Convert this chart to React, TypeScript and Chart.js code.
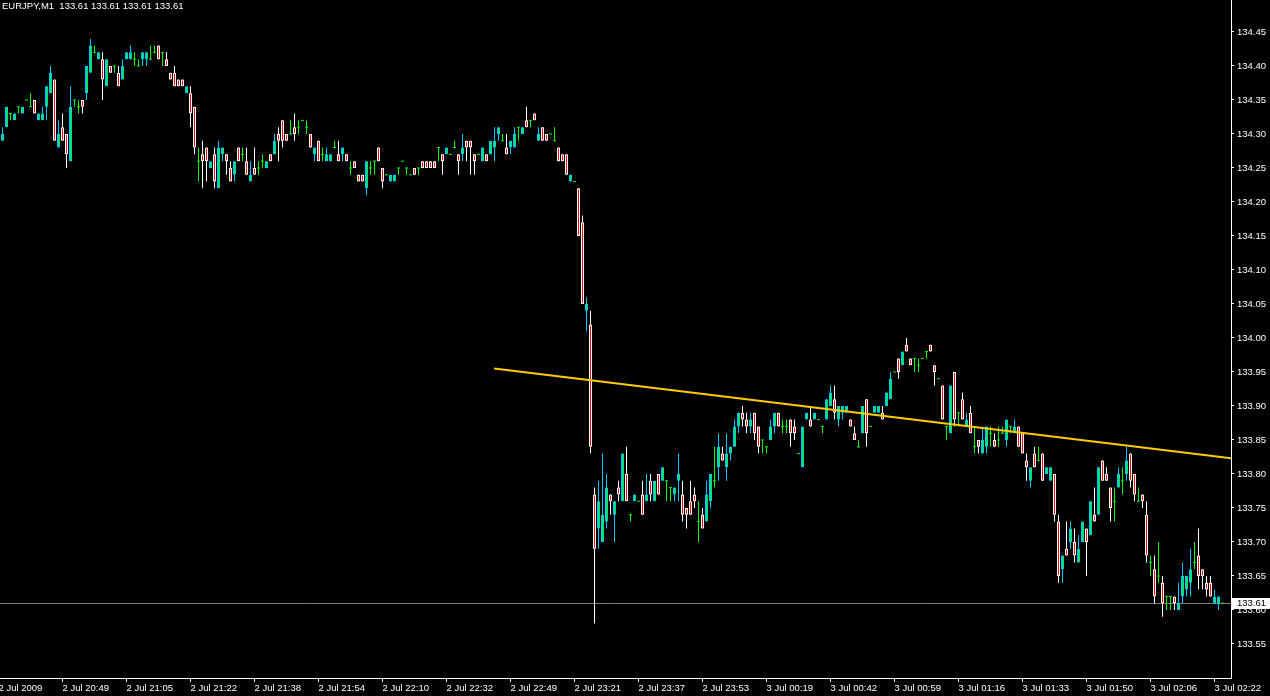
import { useEffect, useRef } from "react";
import { Chart, registerables } from "chart.js";

Chart.register(...registerables);

// ---------- data (EURJPY, M1) ----------
const symbolName = "EURJPY,M1";

const opens = [
  134.29,134.31,134.33,134.32,134.34,134.33,134.35,134.34,134.35,134.32,
  134.32,134.34,134.36,134.38,134.28,134.31,134.30,134.26,134.35,134.34,
  134.35,134.36,134.39,134.42,134.41,134.41,134.37,134.40,134.40,134.39,
  134.38,134.41,134.41,134.41,134.40,134.41,134.41,134.41,134.42,134.43,
  134.42,134.41,134.39,134.39,134.38,134.38,134.36,134.36,134.34,134.26,
  134.27,134.28,134.25,134.27,134.22,134.27,134.27,134.25,134.24,134.28,
  134.27,134.26,134.23,134.25,134.25,134.26,134.25,134.27,134.27,134.30,
  134.32,134.30,134.30,134.31,134.31,134.32,134.31,134.30,134.27,134.29,
  134.27,134.26,134.26,134.28,134.27,134.27,134.27,134.25,134.26,134.24,
  134.24,134.22,134.25,134.26,134.28,134.25,134.24,134.23,134.23,134.25,
  134.26,134.25,134.24,134.25,134.25,134.26,134.26,134.26,134.26,134.28,
  134.27,134.27,134.27,134.28,134.27,134.27,134.29,134.29,134.27,134.27,
  134.26,134.27,134.27,134.28,134.30,134.29,134.28,134.28,134.28,134.31,
  134.30,134.32,134.32,134.33,134.29,134.31,134.30,134.30,134.29,134.28,
  134.27,134.27,134.23,134.23,134.22,134.17,134.04,134.02,133.77,133.72,
  133.70,133.73,133.77,133.74,133.78,133.76,133.80,133.74,133.76,133.76,
  133.77,133.76,133.79,133.76,133.80,133.79,133.79,133.78,133.77,133.79,
  133.77,133.75,133.76,133.77,133.73,133.74,133.73,133.76,133.79,133.81,
  133.83,133.81,133.83,133.84,133.87,133.89,133.88,133.87,133.89,133.87,
  133.85,133.84,133.85,133.87,133.89,133.87,133.87,133.88,133.87,133.83,
  133.81,133.88,133.88,133.88,133.88,133.87,133.88,133.90,133.91,133.88,
  133.89,133.89,133.88,133.86,133.84,133.86,133.91,133.87,133.89,133.89,
  133.89,133.90,133.91,133.95,133.97,133.96,133.99,133.97,133.97,133.96,
  133.97,133.98,133.99,133.96,133.94,133.93,133.87,133.86,133.95,133.89,
  133.91,133.87,133.89,133.84,133.85,133.83,133.84,133.86,133.85,133.85,
  133.86,133.85,133.87,133.86,133.87,133.86,133.82,133.79,133.83,133.82,
  133.83,133.80,133.79,133.80,133.73,133.66,133.69,133.70,133.70,133.67,
  133.70,133.72,133.71,133.74,133.74,133.82,133.80,133.78,133.76,133.78,
  133.79,133.80,133.83,133.80,133.76,133.77,133.74,133.67,133.66,133.65,
  133.64,133.62,133.62,133.62,133.60,133.62,133.63,133.64,133.67,133.68,
  133.66,133.64,133.64,133.61,133.61,133.61,
];

const highs = [
  134.31,134.34,134.33,134.33,134.34,134.34,134.35,134.36,134.35,134.33,
  134.34,134.37,134.40,134.38,134.32,134.33,134.30,134.37,134.35,134.35,
  134.35,134.40,134.44,134.43,134.42,134.42,134.41,134.40,134.40,134.40,
  134.41,134.42,134.43,134.42,134.41,134.42,134.42,134.43,134.43,134.43,
  134.42,134.42,134.39,134.40,134.38,134.38,134.37,134.37,134.34,134.28,
  134.29,134.28,134.26,134.28,134.29,134.28,134.27,134.26,134.26,134.28,
  134.28,134.28,134.26,134.28,134.26,134.27,134.26,134.27,134.30,134.31,
  134.32,134.30,134.32,134.33,134.32,134.32,134.32,134.30,134.28,134.29,
  134.28,134.28,134.27,134.29,134.29,134.28,134.27,134.26,134.26,134.24,
  134.24,134.26,134.26,134.26,134.28,134.25,134.24,134.24,134.24,134.25,
  134.26,134.25,134.24,134.25,134.25,134.26,134.26,134.26,134.26,134.28,
  134.27,134.28,134.27,134.29,134.27,134.30,134.29,134.29,134.27,134.27,
  134.28,134.27,134.29,134.31,134.31,134.30,134.30,134.29,134.31,134.31,
  134.31,134.34,134.32,134.33,134.31,134.31,134.30,134.30,134.31,134.28,
  134.27,134.27,134.24,134.23,134.22,134.18,134.06,134.04,133.78,133.79,
  133.83,133.80,133.77,133.76,133.79,133.83,133.84,133.74,133.77,133.76,
  133.79,133.80,133.80,133.79,133.80,133.81,133.79,133.78,133.78,133.83,
  133.79,133.75,133.79,133.78,133.76,133.75,133.79,133.80,133.84,133.86,
  133.84,133.86,133.84,133.88,133.89,133.90,133.89,133.89,133.89,133.87,
  133.85,133.84,133.88,133.89,133.89,133.88,133.88,133.88,133.88,133.83,
  133.87,133.89,133.90,133.89,133.88,133.87,133.91,133.93,133.93,133.90,
  133.90,133.90,133.88,133.87,133.85,133.90,133.91,133.87,133.90,133.90,
  133.90,133.92,133.95,133.95,133.97,133.98,134.00,133.97,133.97,133.97,
  133.97,133.98,133.99,133.96,133.94,133.93,133.87,133.93,133.95,133.89,
  133.92,133.89,133.90,133.87,133.85,133.87,133.87,133.87,133.86,133.87,
  133.87,133.88,133.87,133.88,133.87,133.86,133.83,133.81,133.84,133.84,
  133.83,133.81,133.81,133.80,133.74,133.68,133.73,133.73,133.72,133.71,
  133.73,133.72,133.76,133.78,133.81,133.82,133.81,133.78,133.78,133.81,
  133.81,133.84,133.83,133.80,133.78,133.77,133.76,133.68,133.68,133.70,
  133.65,133.62,133.62,133.62,133.64,133.67,133.65,133.69,133.70,133.72,
  133.66,133.65,133.65,133.63,133.62,133.61,
];

const lows = [
  134.29,134.31,134.32,134.32,134.33,134.33,134.35,134.34,134.33,134.32,
  134.32,134.32,134.36,134.29,134.28,134.29,134.25,134.26,134.34,134.33,
  134.33,134.35,134.39,134.42,134.41,134.35,134.37,134.39,134.39,134.37,
  134.38,134.41,134.41,134.40,134.40,134.40,134.40,134.41,134.42,134.41,
  134.40,134.40,134.38,134.37,134.37,134.37,134.36,134.31,134.27,134.23,
  134.22,134.23,134.25,134.22,134.22,134.26,134.24,134.23,134.23,134.26,
  134.26,134.24,134.23,134.24,134.24,134.25,134.25,134.26,134.27,134.26,
  134.28,134.29,134.30,134.29,134.30,134.32,134.30,134.28,134.26,134.26,
  134.26,134.26,134.26,134.28,134.26,134.26,134.26,134.24,134.25,134.23,
  134.23,134.21,134.24,134.24,134.26,134.22,134.24,134.23,134.23,134.24,
  134.26,134.24,134.24,134.24,134.24,134.25,134.25,134.25,134.25,134.26,
  134.24,134.27,134.27,134.28,134.24,134.26,134.26,134.24,134.24,134.27,
  134.26,134.26,134.27,134.26,134.29,134.29,134.27,134.27,134.28,134.29,
  134.30,134.31,134.31,134.32,134.29,134.29,134.29,134.30,134.29,134.26,
  134.26,134.24,134.23,134.23,134.15,134.05,134.01,133.83,133.58,133.69,
  133.70,133.72,133.74,133.70,133.76,133.76,133.76,133.73,133.76,133.76,
  133.74,133.76,133.76,133.76,133.77,133.79,133.76,133.76,133.76,133.76,
  133.73,133.72,133.74,133.75,133.70,133.72,133.73,133.75,133.78,133.79,
  133.82,133.79,133.82,133.84,133.86,133.87,133.86,133.86,133.85,133.83,
  133.83,133.83,133.85,133.86,133.87,133.86,133.86,133.84,133.85,133.83,
  133.81,133.88,133.87,133.88,133.88,133.86,133.88,133.90,133.88,133.87,
  133.88,133.89,133.87,133.85,133.84,133.86,133.84,133.87,133.89,133.89,
  133.88,133.90,133.91,133.95,133.94,133.96,133.98,133.96,133.95,133.95,
  133.97,133.97,133.98,133.93,133.94,133.88,133.85,133.86,133.87,133.87,
  133.88,133.87,133.86,133.83,133.83,133.83,133.83,133.84,133.84,133.84,
  133.86,133.84,133.86,133.86,133.84,133.83,133.79,133.78,133.81,133.82,
  133.79,133.80,133.79,133.73,133.64,133.64,133.68,133.69,133.67,133.67,
  133.70,133.65,133.71,133.73,133.74,133.79,133.79,133.73,133.73,133.78,
  133.77,133.79,133.78,133.76,133.76,133.75,133.67,133.65,133.61,133.64,
  133.59,133.60,133.60,133.60,133.60,133.61,133.62,133.62,133.66,133.63,
  133.63,133.62,133.62,133.61,133.60,133.61,
];

const closes = [
  134.30,134.34,134.33,134.33,134.34,134.34,134.35,134.34,134.33,134.33,
  134.33,134.37,134.39,134.29,134.30,134.29,134.27,134.34,134.35,134.34,
  134.34,134.40,134.43,134.42,134.42,134.38,134.41,134.39,134.40,134.37,
  134.40,134.42,134.42,134.41,134.40,134.42,134.42,134.41,134.42,134.41,
  134.42,134.40,134.38,134.37,134.37,134.37,134.37,134.33,134.28,134.26,
  134.26,134.26,134.26,134.23,134.28,134.28,134.26,134.23,134.26,134.26,
  134.27,134.24,134.24,134.24,134.25,134.26,134.26,134.26,134.29,134.29,
  134.29,134.29,134.30,134.30,134.31,134.32,134.31,134.28,134.28,134.26,
  134.27,134.27,134.27,134.28,134.26,134.28,134.26,134.25,134.25,134.23,
  134.23,134.26,134.25,134.26,134.26,134.23,134.24,134.24,134.24,134.25,
  134.26,134.25,134.24,134.24,134.25,134.25,134.25,134.25,134.25,134.28,
  134.26,134.28,134.27,134.28,134.26,134.28,134.28,134.28,134.26,134.27,
  134.28,134.26,134.29,134.29,134.31,134.29,134.27,134.29,134.30,134.31,
  134.31,134.31,134.32,134.32,134.30,134.29,134.29,134.30,134.29,134.26,
  134.26,134.24,134.24,134.23,134.15,134.05,134.05,133.84,133.69,133.76,
  133.74,133.78,133.76,133.76,133.77,133.83,133.76,133.74,133.77,133.76,
  133.74,133.77,133.77,133.79,133.77,133.81,133.79,133.78,133.78,133.80,
  133.74,133.74,133.74,133.76,133.73,133.72,133.77,133.80,133.79,133.84,
  133.82,133.83,133.84,133.87,133.89,133.88,133.87,133.88,133.86,133.84,
  133.85,133.84,133.87,133.89,133.87,133.87,133.87,133.86,133.86,133.83,
  133.87,133.89,133.87,133.89,133.88,133.87,133.91,133.92,133.89,133.90,
  133.90,133.90,133.87,133.85,133.84,133.90,133.86,133.87,133.90,133.90,
  133.88,133.92,133.94,133.95,133.95,133.98,133.98,133.96,133.97,133.96,
  133.97,133.98,133.98,133.95,133.94,133.88,133.87,133.93,133.88,133.89,
  133.88,133.88,133.86,133.84,133.84,133.85,133.87,133.86,133.84,133.85,
  133.86,133.88,133.87,133.87,133.84,133.83,133.81,133.81,133.81,133.82,
  133.79,133.81,133.81,133.74,133.65,133.68,133.68,133.72,133.68,133.69,
  133.73,133.70,133.76,133.73,133.81,133.79,133.79,133.75,133.76,133.80,
  133.79,133.82,133.79,133.77,133.76,133.76,133.68,133.67,133.62,133.65,
  133.61,133.62,133.62,133.61,133.61,133.65,133.65,133.66,133.67,133.65,
  133.65,133.63,133.62,133.62,133.62,133.61,
];

const timeLabels = [
  "2 Jul 2009", "2 Jul 20:49", "2 Jul 21:05", "2 Jul 21:22", "2 Jul 21:38",
  "2 Jul 21:54", "2 Jul 22:10", "2 Jul 22:32", "2 Jul 22:49", "2 Jul 23:21",
  "2 Jul 23:37", "2 Jul 23:53", "3 Jul 00:19", "3 Jul 00:42", "3 Jul 00:59",
  "3 Jul 01:16", "3 Jul 01:33", "3 Jul 01:50", "3 Jul 02:06", "3 Jul 02:22",
];
// bar index at which each time label sits
const timeLabelBars = [-1, 15, 31, 47, 63, 79, 95, 111, 127, 143, 159, 175, 191, 207, 223, 239, 255, 271, 287, 303];

const priceTicks = [
  133.55, 133.6, 133.65, 133.7, 133.75, 133.8, 133.85, 133.9, 133.95, 134.0,
  134.05, 134.1, 134.15, 134.2, 134.25, 134.3, 134.35, 134.4, 134.45,
];

// trend line (bar index, price)
const trendBars = [122.9, 307.125];
const trendPrices = [133.955, 133.823];

// ---------- style ----------
const FONT = '"Liberation Sans", Arial, sans-serif';
const FONT_SIZE = 9.5;
const BAR_UP = "#00C8FF";
const BAR_DOWN = "#FFFFFF";
const BULL_FILL = "#00FF00";
const BEAR_FILL = "#FF0000";
const DOJI = "#00FF00";
const TREND = "#FFCC00";
const AXIS = "#FFFFFF";
const BID_LINE = "#808080";

const lastIdx = closes.length - 1;
const bid = closes[lastIdx];

const bgPlugin = {
  id: "mtBackground",
  beforeDraw(chart: any) {
    const ctx = chart.ctx;
    ctx.save();
    ctx.fillStyle = "#000000";
    ctx.fillRect(0, 0, chart.width, chart.height);
    ctx.restore();
  },
};

const bidPlugin = {
  id: "mtBid",
  beforeDatasetsDraw(chart: any) {
    const { ctx, chartArea, scales } = chart;
    const y = Math.floor(scales.y.getPixelForValue(bid)) + 0.5;
    ctx.save();
    ctx.strokeStyle = BID_LINE;
    ctx.lineWidth = 1;
    ctx.beginPath();
    ctx.moveTo(chartArea.left, y);
    ctx.lineTo(chartArea.right, y);
    ctx.stroke();
    ctx.restore();
  },
  afterDraw(chart: any) {
    const { ctx, chartArea, scales } = chart;
    const y = Math.floor(scales.y.getPixelForValue(bid));
    ctx.save();
    ctx.fillStyle = "#FFFFFF";
    ctx.fillRect(chartArea.right + 1, y - 5, chart.width - chartArea.right - 1, 11);
    ctx.fillStyle = "#000000";
    ctx.font = `${FONT_SIZE}px ${FONT}`;
    ctx.textBaseline = "middle";
    ctx.textAlign = "left";
    ctx.fillText(bid.toFixed(2), chartArea.right + 6, y + 0.5);
    ctx.restore();
  },
};

export default function App() {
  const canvasRef = useRef<HTMLCanvasElement | null>(null);

  useEffect(() => {
    const canvas = canvasRef.current;
    if (!canvas) return;

    const wickData: any[] = [];
    const wickColors: string[] = [];
    const bodyData: any[] = [];
    const bodyFill: string[] = [];
    const bodyBorder: string[] = [];
    const dojiData: any[] = [];
    const half = 0.5 / 680;

    for (let i = 0; i < closes.length; i++) {
      const o = opens[i], h = highs[i], l = lows[i], c = closes[i];
      const kind = c > o ? "up" : c < o ? "down" : "doji";
      if (h > l) {
        wickData.push({ x: i, y: [l, h] });
        wickColors.push(kind === "up" ? BAR_UP : kind === "down" ? BAR_DOWN : DOJI);
      }
      if (kind === "doji") {
        dojiData.push({ x: i, y: [o - half, o + half] });
      } else {
        bodyData.push({ x: i, y: [o, c] });
        bodyFill.push(kind === "up" ? BULL_FILL : BEAR_FILL);
        bodyBorder.push(kind === "up" ? BAR_UP : BAR_DOWN);
      }
    }

    const font = { family: FONT, size: FONT_SIZE };

    const chart = new Chart(canvas, {
      type: "bar",
      data: {
        datasets: [
          {
            type: "line",
            label: "trend",
            data: trendBars.map((x, i) => ({ x, y: trendPrices[i] })),
            borderColor: TREND,
            borderWidth: 2,
            pointRadius: 0,
            tension: 0,
            order: 0,
          } as any,
          {
            label: "bodies",
            data: bodyData,
            backgroundColor: bodyFill,
            borderColor: bodyBorder,
            borderWidth: 1,
            borderSkipped: false,
            barThickness: 3,
            inflateAmount: 0,
            stack: "c",
            order: 1,
          } as any,
          {
            label: "doji",
            data: dojiData,
            backgroundColor: DOJI,
            borderWidth: 0,
            barThickness: 3,
            inflateAmount: 0,
            stack: "c",
            order: 1,
          } as any,
          {
            label: "wicks",
            data: wickData,
            backgroundColor: wickColors,
            borderWidth: 0,
            barThickness: 1,
            inflateAmount: 0,
            stack: "c",
            order: 2,
          } as any,
        ],
      },
      options: {
        animation: false,
        responsive: false,
        events: [],
        layout: { padding: 0 },
        plugins: {
          legend: { display: false },
          tooltip: { enabled: false },
          title: { display: false },
        },
        scales: {
          x: {
            type: "linear",
            position: "bottom",
            min: -0.625,
            max: 307.125,
            offset: false,
            grid: {
              display: true,
              drawOnChartArea: false,
              drawTicks: true,
              tickLength: 4,
              color: AXIS,
              offset: false,
            },
            border: { display: true, color: AXIS, width: 1 },
            ticks: {
              autoSkip: false,
              maxRotation: 0,
              minRotation: 0,
              align: "start",
              padding: 1,
              color: "#FFFFFF",
              font,
              callback: (v: any) => {
                const idx = timeLabelBars.indexOf(Number(v));
                return idx >= 0 ? timeLabels[idx] : "";
              },
            },
            afterBuildTicks: (s: any) => {
              s.ticks = timeLabelBars.map((v) => ({ value: v }));
            },
            afterFit: (s: any) => {
              s.height = 18;
              s.paddingLeft = 0;
              s.paddingRight = 0;
            },
          },
          y: {
            type: "linear",
            position: "right",
            min: 133.5,
            max: 134.497,
            stacked: false,
            beginAtZero: false,
            grid: {
              display: true,
              drawOnChartArea: false,
              drawTicks: true,
              tickLength: 3,
              color: AXIS,
            },
            border: { display: true, color: AXIS, width: 1 },
            ticks: {
              padding: 3,
              color: "#FFFFFF",
              font,
              callback: (v: any) => Number(v).toFixed(2),
            },
            afterBuildTicks: (s: any) => {
              s.ticks = priceTicks.map((v) => ({ value: v }));
            },
            afterFit: (s: any) => {
              s.width = 39;
              s.paddingTop = 0;
              s.paddingBottom = 0;
            },
          },
        },
      } as any,
      plugins: [bgPlugin, bidPlugin],
    });

    return () => chart.destroy();
  }, []);

  const ohlc = [opens[lastIdx], highs[lastIdx], lows[lastIdx], closes[lastIdx]]
    .map((v) => v.toFixed(2))
    .join(" ");

  return (
    <div
      style={{
        position: "absolute",
        left: 0,
        top: 0,
        width: 1270,
        height: 696,
        background: "#000000",
        overflow: "hidden",
      }}
    >
      <canvas ref={canvasRef} width={1270} height={696} style={{ display: "block" }} />
      <div
        style={{
          position: "absolute",
          left: 2,
          top: 0,
          color: "#FFFFFF",
          fontFamily: FONT,
          fontSize: FONT_SIZE,
          lineHeight: "12px",
          whiteSpace: "pre",
        }}
      >
        {`${symbolName}  ${ohlc}`}
      </div>
    </div>
  );
}
